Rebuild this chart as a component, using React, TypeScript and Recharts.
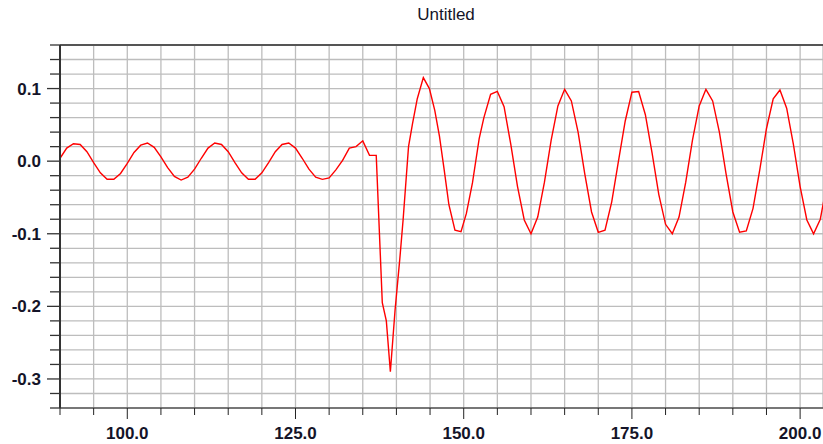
import React from 'react';
import { LineChart, Line, XAxis, YAxis, CartesianGrid, ReferenceLine } from 'recharts';

// Signal samples: time (x) and amplitude (y)
const sampleX = [
  90, 91, 92, 93, 94, 95, 96, 97, 98, 99,
  100, 101, 102, 103, 104, 105, 106, 107, 108, 109,
  110, 111, 112, 113, 114, 115, 116, 117, 118, 119,
  120, 121, 122, 123, 124, 125, 126, 127, 128, 129,
  130, 131, 132, 133, 134, 135, 136, 137, 137.9, 138.5,
  139.1, 139.8, 140.5, 141.0, 141.8, 142.4, 143.1, 144.0, 144.9, 145.7,
  146.4, 147.1, 147.8, 148.7, 149.6, 150.4, 151.3, 152.3, 153, 154,
  155, 156, 157, 158, 159, 160, 161, 162, 163, 164,
  165, 166, 167, 168, 169, 170, 171, 172, 173, 174,
  175, 176, 177, 178, 179, 180, 181, 182, 183, 184,
  185, 186, 187, 188, 189, 190, 191, 192, 193, 194,
  195, 196, 197, 198, 199, 200, 201, 202, 203, 204,
];

const sampleY = [
  0.004, 0.018, 0.024, 0.023, 0.013, -0.002, -0.016, -0.025, -0.025, -0.017,
  -0.003, 0.012, 0.022, 0.025, 0.019, 0.006, -0.009, -0.021, -0.026, -0.022,
  -0.011, 0.004, 0.018, 0.025, 0.023, 0.013, -0.002, -0.016, -0.025, -0.025,
  -0.016, -0.002, 0.013, 0.023, 0.025, 0.018, 0.004, -0.011, -0.022, -0.025,
  -0.023, -0.012, 0.001, 0.018, 0.020, 0.028, 0.008, 0.008, -0.195, -0.220,
  -0.290, -0.205, -0.135, -0.080, 0.020, 0.052, 0.086, 0.115, 0.100, 0.070,
  0.034, -0.012, -0.060, -0.095, -0.097, -0.072, -0.030, 0.031, 0.060, 0.092,
  0.096, 0.075, 0.023, -0.035, -0.081, -0.100, -0.077, -0.029, 0.029, 0.076,
  0.099, 0.083, 0.040, -0.018, -0.070, -0.098, -0.095, -0.056, 0.000, 0.055,
  0.095, 0.096, 0.064, 0.011, -0.046, -0.087, -0.100, -0.077, -0.029, 0.029,
  0.076, 0.099, 0.083, 0.040, -0.018, -0.070, -0.098, -0.096, -0.065, -0.012,
  0.045, 0.086, 0.098, 0.073, 0.023, -0.035, -0.081, -0.100, -0.080, -0.030,
];

const xTicks = [90, 95, 100, 105, 110, 115, 120, 125, 130, 135, 140, 145, 150, 155, 160, 165, 170, 175, 180, 185, 190, 195, 200];
const xLabelTicks = [100, 125, 150, 175, 200];
const yTicks = [-0.34, -0.32, -0.3, -0.28, -0.26, -0.24, -0.22, -0.2, -0.18, -0.16, -0.14, -0.12, -0.1, -0.08, -0.06, -0.04, -0.02, 0, 0.02, 0.04, 0.06, 0.08, 0.1, 0.12, 0.14, 0.16];
const yLabelTicks = [-0.3, -0.2, -0.1, 0, 0.1];
const xDomain = [90, 203.4];
const yDomain = [-0.34, 0.16];
const chartTitle = 'Untitled';

const data = sampleX.map((x, i) => ({ x, y: sampleY[i] }));

const labelFont = '"Liberation Sans", Arial, sans-serif';

const isMajor = (list: number[], v: number) => list.some((m) => Math.abs(m - v) < 1e-9);

const XTick = (props: any) => {
  const { x, y, payload } = props;
  const major = isMajor(xLabelTicks, payload.value);
  return (
    <g>
      <line x1={x} y1={y} x2={x} y2={y + (major ? 11 : 7)} stroke="#222" strokeWidth={1} />
      {major && (
        <text x={x} y={y + 31} textAnchor="middle" fontSize={17} fontWeight="bold" fontFamily={labelFont} fill="#141428">
          {Number(payload.value).toFixed(1)}
        </text>
      )}
    </g>
  );
};

const YTick = (props: any) => {
  const { x, y, payload } = props;
  const major = isMajor(yLabelTicks, payload.value);
  return (
    <g>
      <line x1={x} y1={y} x2={x - (major ? 13 : 10)} y2={y} stroke="#333" strokeWidth={1.3} />
      {major && (
        <text x={x - 19} y={y + 6} textAnchor="end" fontSize={17} fontWeight="bold" fontFamily={labelFont} fill="#141428">
          {Math.abs(payload.value) < 1e-9 ? '0.0' : Number(payload.value).toFixed(1)}
        </text>
      )}
    </g>
  );
};

export default function App() {
  return (
    <div style={{ position: 'absolute', left: 0, top: 0, width: 823, height: 444, background: '#fff', overflow: 'hidden' }}>
      <div
        style={{
          position: 'absolute',
          left: 0,
          top: 6,
          width: 892,
          textAlign: 'center',
          fontFamily: labelFont,
          fontSize: 17,
          lineHeight: '17px',
          color: '#141428',
        }}
      >
        {chartTitle}
      </div>
      <LineChart width={823} height={444} data={data} margin={{ top: 45, right: 0, bottom: 0, left: 0 }}>
        <CartesianGrid stroke="#bdbdbd" strokeWidth={1.3} />
        <XAxis
          dataKey="x"
          type="number"
          domain={xDomain}
          ticks={xTicks}
          allowDataOverflow
          height={36}
          tickSize={0}
          tickMargin={0}
          tickLine={false}
          axisLine={{ stroke: '#222', strokeWidth: 1.2 }}
          tick={<XTick />}
          interval={0}
        />
        <YAxis
          dataKey="y"
          type="number"
          domain={yDomain}
          ticks={yTicks}
          allowDataOverflow
          width={60}
          tickSize={0}
          tickMargin={0}
          tickLine={false}
          axisLine={{ stroke: '#333', strokeWidth: 2 }}
          tick={<YTick />}
          interval={0}
        />
        <ReferenceLine y={0.16} stroke="#555" strokeWidth={2} />
        <Line
          type="linear"
          dataKey="y"
          stroke="#ff0000"
          strokeWidth={1.4}
          dot={false}
          isAnimationActive={false}
        />
      </LineChart>
    </div>
  );
}
